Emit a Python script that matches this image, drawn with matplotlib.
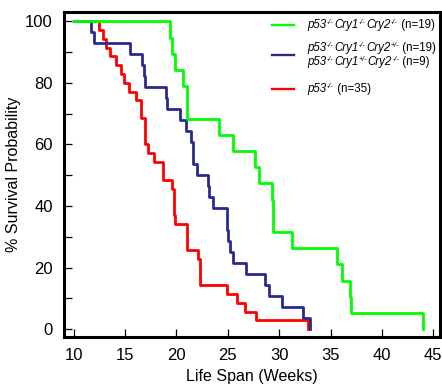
import matplotlib
matplotlib.use("Agg")
import matplotlib.pyplot as plt
from matplotlib.offsetbox import (TextArea, HPacker, VPacker, DrawingArea,
                                  AnchoredOffsetbox)
from matplotlib.lines import Line2D

plt.rcParams['font.family'] = ['Liberation Sans', 'DejaVu Sans']

# ---- data (weeks, % survival after each event) ----
green_t = [10, 19.38, 19.6, 19.85, 20.68, 21.07, 24.09, 25.54, 27.65, 28.04,
           29.27, 29.4, 31.28, 35.66, 36.15, 36.9, 36.98, 43.99]
green_s = [100, 94.7, 89.5, 84.2, 78.9, 68.4, 63.2, 57.9, 52.6, 47.4,
           42.1, 31.6, 26.3, 21.1, 15.8, 10.5, 5.3, 0]

blue_t = [10, 11.7, 11.95, 15.5, 16.65, 16.8, 16.95, 19.0, 19.1, 20.3, 20.9,
          21.4, 21.65, 21.95, 23.05, 23.2, 23.55, 24.9, 25.05, 25.25, 25.5,
          26.8, 28.6, 29.0, 30.3, 32.35, 32.95]
blue_s = [100, 96.4, 92.9, 89.3, 85.7, 82.1, 78.6, 75.0, 71.4, 67.9, 64.3,
          60.7, 53.6, 50.0, 46.4, 42.9, 39.3, 32.1, 28.6, 25.0, 21.4,
          17.9, 14.3, 10.7, 7.1, 3.6, 0]

red_t = [10, 12.5, 12.85, 13.1, 13.5, 14.1, 14.55, 14.9, 15.4, 16.1, 16.5,
         16.9, 17.2, 17.8, 18.7, 19.6, 19.72, 19.85, 21.0, 22.05, 22.3,
         24.95, 25.9, 26.7, 27.7, 32.8]
red_s = [100, 97.1, 94.3, 91.4, 88.6, 85.7, 82.9, 80.0, 77.1, 74.3, 68.6,
         60.0, 57.1, 54.3, 48.6, 45.7, 37.1, 34.3, 25.7, 22.9, 14.3,
         11.4, 8.6, 5.7, 2.9, 0]

# legend labels: (genotype pieces, count text); each piece = (gene, superscript)
legend_green = [[("p53", "-/-"), ("Cry1", "-/-"), ("Cry2", "-/-")], "(n=19)"]
legend_blue = [[[("p53", "-/-"), ("Cry1", "-/-"), ("Cry2", "+/-")], "(n=19)"],
               [[("p53", "-/-"), ("Cry1", "+/-"), ("Cry2", "-/-")], "(n=9)"]]
legend_red = [[("p53", "-/-")], "(n=35)"]
colors = ['#00ff00', '#2a2a8c', '#ff0000']

fig = plt.figure(figsize=(4.42, 3.87), dpi=100)
ax = fig.add_axes([0.1448, 0.1284, 0.8507, 0.8414])

lw = 2.0
ax.step(red_t, red_s, where='post', color=colors[2], lw=lw, zorder=3)
ax.step(blue_t, blue_s, where='post', color=colors[1], lw=lw, zorder=4)
ax.step(green_t, green_s, where='post', color=colors[0], lw=lw, zorder=5)

ax.set_xlim(9.05, 45.65)
ax.set_ylim(-2.6, 103.1)
ax.set_xticks(range(10, 46, 5))
ax.set_yticks(range(0, 101, 20))
ax.set_yticks(range(10, 100, 20), minor=True)
ax.tick_params(axis='both', which='both', direction='in', width=0.9,
               length=6, labelsize=12, pad=8)
ax.tick_params(axis='x', which='minor', length=0)
ax.tick_params(top=False, right=False)
for sp in ax.spines.values():
    sp.set_linewidth(2.2)

ax.set_xlabel('Life Span (Weeks)', fontsize=11.5, labelpad=4)
ax.set_ylabel('% Survival Probability', fontsize=11.5, labelpad=3)

FS = 8.3
SUP = 5.0


def label_line(pieces, count):
    kids = []
    for gene, sup in pieces:
        kids.append(TextArea(gene, textprops=dict(fontsize=FS, style='italic')))
        kids.append(TextArea(sup, textprops=dict(fontsize=SUP, style='italic')))
    kids.append(TextArea(" " + count, textprops=dict(fontsize=FS)))
    return HPacker(children=kids, align='top', pad=0, sep=0.3)


def handle(color):
    da = DrawingArea(16, 8, 0, 0)
    da.add_artist(Line2D([0, 16], [4, 4], color=color, lw=1.7))
    return da


def add_row(color, textbox, yfrac):
    row = HPacker(children=[handle(color), textbox], align='center',
                  pad=0, sep=9.5)
    ab = AnchoredOffsetbox(loc='center left', child=row, pad=0, borderpad=0,
                           frameon=False, bbox_to_anchor=(0.553, yfrac),
                           bbox_transform=ax.transAxes)
    ax.add_artist(ab)


add_row(colors[0], label_line(*legend_green), 0.960)
add_row(colors[1], VPacker(children=[label_line(*legend_blue[0]),
                                     label_line(*legend_blue[1])],
                           align='left', pad=0, sep=1.5), 0.868)
add_row(colors[2], label_line(*legend_red), 0.764)

fig.savefig('out.png', dpi=100)
